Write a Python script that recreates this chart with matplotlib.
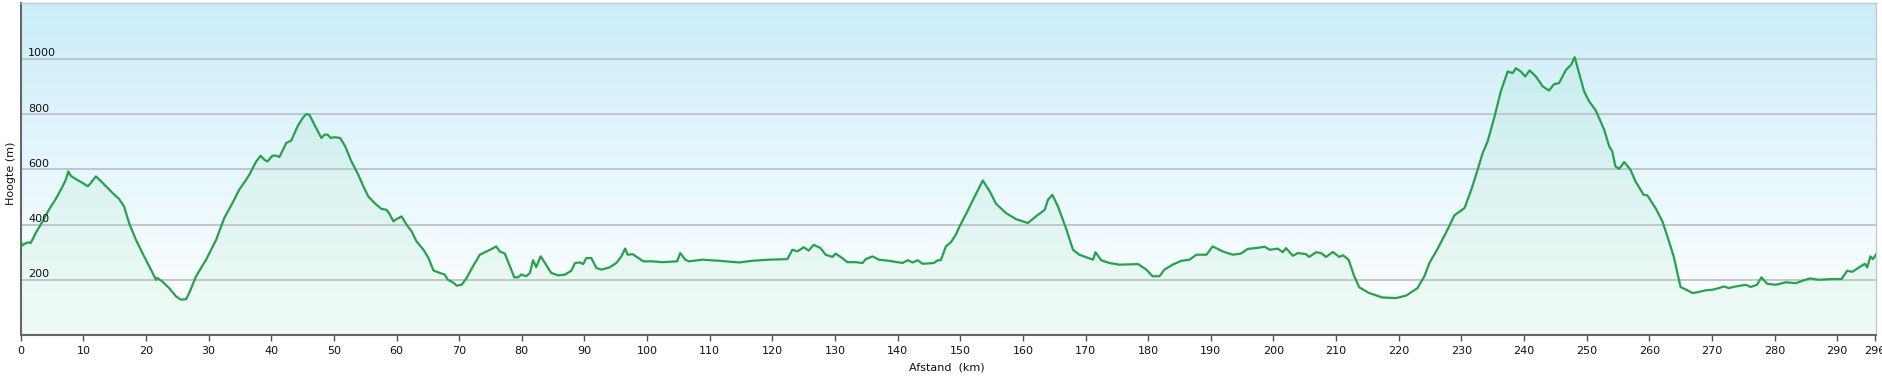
import matplotlib
matplotlib.use("Agg")
import matplotlib.pyplot as plt
import numpy as np
from matplotlib.colors import LinearSegmentedColormap

# ---- data ----
distance_km = [
    0.0, 0.3, 0.8, 1.3, 1.6, 2.4, 3.5, 4.5, 5.6, 6.7, 7.2, 7.6, 8.0, 8.8, 9.9,
    10.7, 11.2, 12.0, 13.1, 14.7, 15.7, 16.5, 17.3, 18.4, 19.7, 20.8, 21.6, 21.8,
    22.6, 23.7, 24.8, 25.6, 26.4, 26.9, 28.0, 29.6, 31.2, 32.5, 33.8, 34.9, 36.0,
    36.5, 37.6, 38.3, 38.9, 39.4, 40.2, 40.8, 41.3, 42.4, 43.2, 44.2, 45.0, 45.6,
    46.1, 46.9, 48.0, 48.5, 49.0, 49.5, 50.1, 51.0, 51.8, 52.8, 53.9, 54.7, 55.5,
    56.5, 57.6, 58.4, 58.9, 59.5, 60.0, 60.8, 61.6, 62.4, 63.2, 64.3, 65.1, 65.9,
    66.9, 67.7, 68.2, 69.0, 69.6, 70.4, 71.2, 72.2, 73.3, 74.4, 75.2, 75.9, 76.5,
    77.3, 78.1, 78.8, 79.4, 79.9, 80.7, 81.3, 81.8, 82.3, 83.0, 83.7, 84.7, 85.8,
    86.9, 87.9, 88.5, 89.3, 89.8, 90.3, 91.1, 91.9, 92.7, 94.0, 95.1, 95.9, 96.5,
    96.9, 97.7, 98.6, 99.4, 100.8, 102.4, 104.8, 105.3, 106.1, 106.7, 108.8, 111.5,
    114.7, 116.8, 119.4, 122.4, 123.2, 124.0, 125.0, 125.8, 126.6, 127.7, 128.5,
    129.6, 130.1, 130.9, 132.0, 133.3, 134.4, 134.9, 136.0, 137.0, 138.6, 140.8,
    141.6, 142.4, 143.2, 144.0, 145.8, 146.4, 146.9, 147.7, 148.5, 149.3, 149.9,
    151.0, 152.3, 153.6, 154.7, 155.7, 157.3, 158.9, 160.8, 162.1, 163.5, 164.0,
    164.7, 165.6, 166.9, 168.0, 169.0, 171.2, 171.6, 172.5, 173.8, 175.4, 178.4,
    179.7, 180.7, 181.8, 182.6, 183.9, 185.3, 186.6, 187.7, 189.3, 190.3, 191.9,
    193.5, 194.8, 195.9, 197.2, 198.6, 199.4, 200.7, 201.5, 202.0, 203.1, 203.9,
    205.2, 205.7, 206.8, 207.6, 208.4, 209.5, 210.5, 211.1, 212.0, 212.9, 213.7,
    215.3, 217.4, 219.6, 221.2, 223.0, 224.1, 224.9, 226.2, 227.8, 228.9, 230.5,
    231.6, 232.6, 233.4, 234.2, 235.3, 236.3, 237.4, 238.2, 238.7, 239.5, 240.2,
    240.9, 241.9, 243.0, 244.0, 244.8, 245.6, 246.7, 247.5, 248.1, 248.8, 249.6,
    250.4, 251.4, 252.0, 252.8, 253.6, 254.1, 254.6, 255.2, 256.0, 257.0, 257.8,
    259.1, 259.7, 261.0, 262.1, 262.9, 263.9, 265.0, 266.1, 266.9, 267.9, 269.0,
    270.1, 271.1, 271.9, 272.7, 273.8, 275.4, 276.2, 277.2, 277.9, 278.8, 280.2,
    281.8, 283.4, 284.9, 285.7, 287.1, 289.2, 290.7, 291.6, 292.4, 293.5, 294.4,
    294.8, 295.3, 295.7, 296.2,
]
elevation_m = [
    340, 325, 333, 336, 333, 370, 412, 454, 493, 539, 563, 593, 577, 565, 551,
    539, 551, 575, 551, 514, 493, 466, 406, 345, 285, 237, 200, 207,
    194, 170, 140, 128, 130, 152, 213, 273, 345, 424, 478, 527, 563,
    581, 629, 650, 635, 629, 650, 650, 645, 696, 705, 756, 786, 801,
    798, 762, 714, 726, 726, 714, 717, 714, 684, 629, 581, 539, 502,
    478, 457, 454, 438, 412, 420, 430, 400, 376, 339, 309, 279, 234,
    225, 219, 200, 191, 179, 182, 207, 249, 291, 303, 312, 321, 303,
    295, 249, 209, 209, 219, 213, 225, 271, 246, 285, 261, 225, 216,
    219, 233, 261, 263, 257, 279, 279, 243, 237, 245, 261, 285, 313,
    291, 293, 279, 267, 267, 264, 267, 297, 273, 267, 273, 269,
    263, 269, 273, 275, 309, 303, 318, 306, 327, 315, 291,
    283, 295, 283, 264, 264, 261, 275, 285, 273, 269, 261,
    271, 263, 271, 258, 261, 271, 271, 321, 336, 364, 394,
    442, 502, 560, 521, 476, 442, 420, 406, 430, 454, 490,
    508, 466, 386, 309, 291, 273, 300, 271, 261, 255, 257,
    237, 213, 213, 237, 255, 269, 273, 291, 291, 321, 303,
    291, 295, 312, 315, 320, 309, 313, 300, 315, 287, 297,
    293, 283, 300, 297, 283, 301, 283, 289, 273, 213, 173,
    152, 136, 134, 143, 170, 213, 261, 312, 382, 434, 460,
    527, 599, 659, 702, 792, 883, 955, 949, 967, 955, 937,
    959, 937, 901, 886, 909, 913, 961, 979, 1007, 949, 883,
    847, 816, 786, 744, 684, 665, 611, 602, 627, 599, 557,
    508, 506, 460, 412, 357, 285, 174, 162, 152, 156, 162,
    164, 170, 176, 170, 176, 182, 174, 182, 209, 186, 182,
    191, 188, 200, 205, 200, 203, 203, 233, 229, 245, 258,
    245, 285, 275, 291,
]
x_ticks = list(range(0, 291, 10)) + [296]
y_grid = [200, 400, 600, 800, 1000]

x_max = 296.2
y_max = 1203

# ---- figure ----
W, H = 1882, 381
fig = plt.figure(figsize=(W / 100, H / 100), dpi=100)
fig.patch.set_facecolor("white")
ax = fig.add_axes([20.7 / W, 46 / H, (1876 - 20.7) / W, (335.2 - 3.3) / H])
ax.set_xlim(0, x_max)
ax.set_ylim(0, y_max)

# background gradient (light blue at top -> white lower down)
bg = LinearSegmentedColormap.from_list(
    "bg", [(0.0, "#ffffff"), (0.12, "#fbfeff"), (1.0, "#cbedf9")])
grad = np.linspace(0, 1, 256).reshape(-1, 1)
ax.imshow(grad, cmap=bg, origin="lower", aspect="auto",
          extent=[0, x_max, 0, y_max], zorder=0)

# fill under the profile
ax.fill_between(distance_km, elevation_m, 0, color="#3cc46e", alpha=0.075,
                linewidth=0, zorder=1)

# grid lines
for g in y_grid:
    ax.axhline(g, color="#bcc3c8", lw=1.3, zorder=2)
    ax.annotate(str(g), xy=(0, g), xycoords=("axes fraction", "data"),
                xytext=(5.3, 2.0), textcoords="offset points",
                ha="left", va="baseline", fontsize=8, color="#111111",
                zorder=5)

# profile line
ax.plot(distance_km, elevation_m, color="#27a14c", lw=1.6, zorder=4,
        solid_joinstyle="round")

# axes styling
ax.set_yticks([])
ax.set_xticks(x_ticks)
ax.set_xticklabels([str(t) for t in x_ticks], fontsize=8, color="#111111")
ax.tick_params(axis="x", direction="out", length=4, width=1,
               color="#555555", pad=4)
for side in ("left", "bottom"):
    ax.spines[side].set_color("#666666")
    ax.spines[side].set_linewidth(1.5)
for side in ("top", "right"):
    ax.spines[side].set_color("#c4c8cc")
    ax.spines[side].set_linewidth(1.0)

fig.text(11 / W, 1 - 173 / H, "Hoogte (m)", rotation=90, ha="center",
         va="center", fontsize=8, color="#111111")
fig.text(947 / W, 1 - 368 / H, "Afstand  (km)", ha="center", va="center",
         fontsize=8, color="#111111")

fig.savefig("out.png", dpi=100, facecolor="white")
